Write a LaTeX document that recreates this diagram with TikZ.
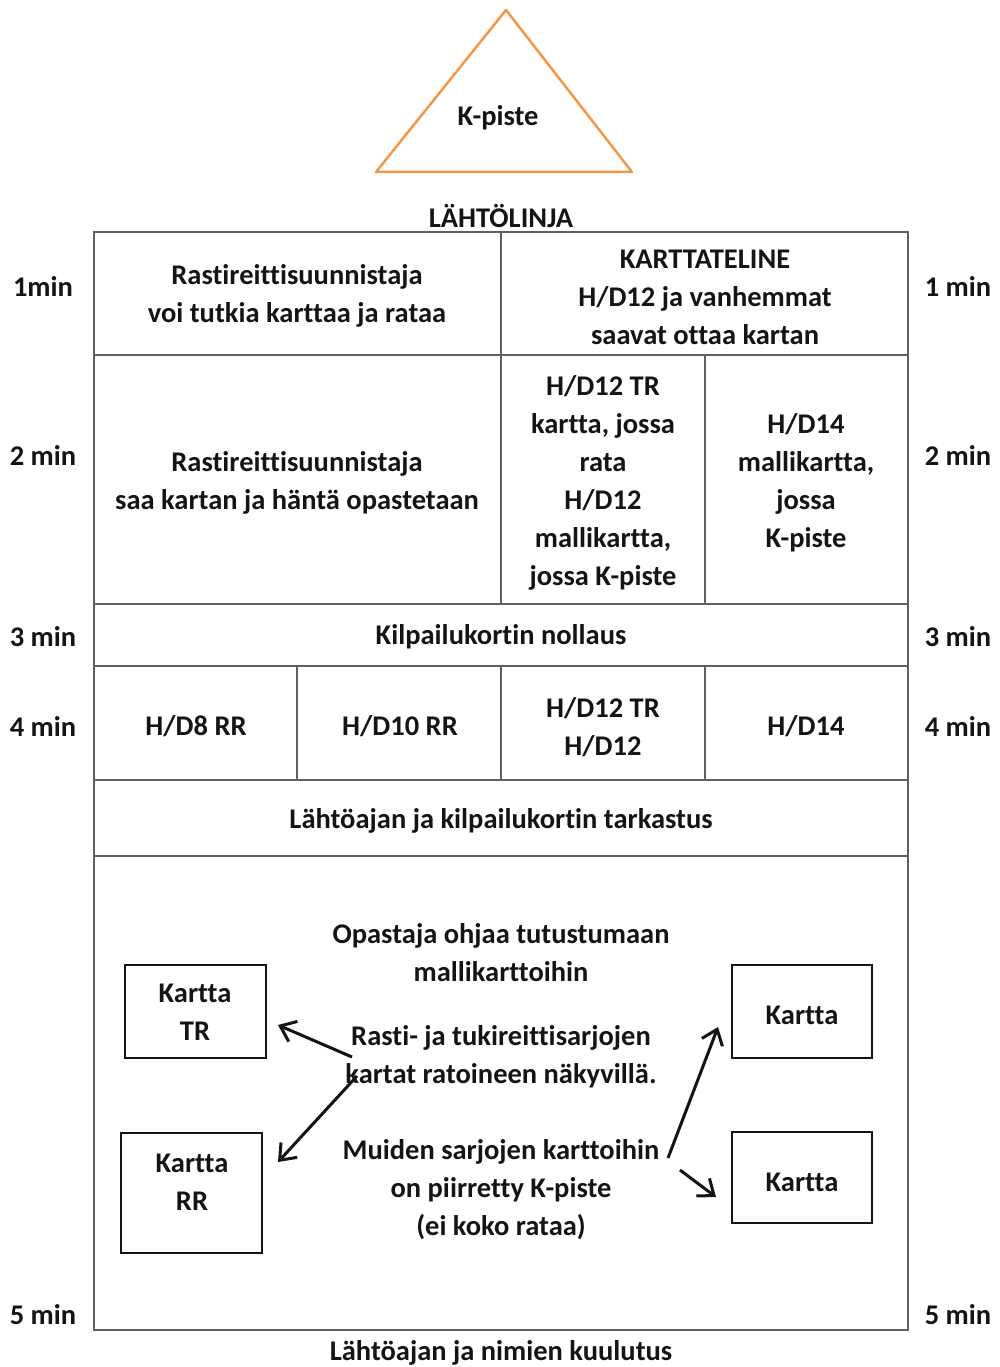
\documentclass[tikz,border=0pt]{standalone}
\usepackage{fontspec}
\setmainfont{Carlito}[UprightFont=* Bold, BoldFont=* Bold, Ligatures=NoCommon]
\usetikzlibrary{arrows.meta}
\definecolor{korange}{RGB}{247,150,70}
\definecolor{gridc}{RGB}{95,95,95}
\definecolor{ink}{RGB}{20,20,20}
\begin{document}
\begin{tikzpicture}[x=1pt,y=-1pt,
 txt/.style={font=\fontsize{28.5}{38}\selectfont\bfseries, align=center, text=ink, inner sep=0pt, yshift=-2pt},
 gridline/.style={draw=gridc, line width=1.6pt},
 mapbox/.style={draw=ink, line width=2.2pt, inner sep=0pt},
 arr/.style={-{Straight Barb[length=14pt,width=22pt,line width=3pt]}, line width=3pt, draw=ink}]
\useasboundingbox (0,0) rectangle (999,1367);

% triangle
\draw[korange, line width=2.5pt, line join=round] (506,10) -- (632,172) -- (376,172) -- cycle;
\node[txt] (kp) at (498,116) {K-piste};
\node[txt] (lahto) at (501,214) {LÄHTÖLINJA};

% table grid
\draw[gridline] (94,232) rectangle (908,1330);
\draw[gridline] (94,355) -- (908,355);
\draw[gridline] (94,604) -- (908,604);
\draw[gridline] (94,666) -- (908,666);
\draw[gridline] (94,780) -- (908,780);
\draw[gridline] (94,856) -- (908,856);
\draw[gridline] (501,232) -- (501,604);
\draw[gridline] (705,355) -- (705,604);
\draw[gridline] (297,666) -- (297,780);
\draw[gridline] (501,666) -- (501,780);
\draw[gridline] (705,666) -- (705,780);

% time labels
\foreach \n/\t/\y in {l1/1min/284, l2/2 min/453, l3/3 min/635, l4/4 min/724, l5/5 min/1313}
  \node[txt] (\n) at (43,\y) {\t};
\foreach \n/\t/\y in {r1/1 min/284, r2/2 min/453, r3/3 min/635, r4/4 min/724, r5/5 min/1313}
  \node[txt] (\n) at (958,\y) {\t};

% cell texts
\node[txt] (c11) at (297,294) {Rastireittisuunnistaja\\voi tutkia karttaa ja rataa};
\node[txt] (c12) at (705,295) {KARTTATELINE\\H/D12 ja vanhemmat\\saavat ottaa kartan};
\node[txt] (c21) at (297,481) {Rastireittisuunnistaja\\saa kartan ja häntä opastetaan};
\node[txt] (c22) at (603,481) {H/D12 TR\\kartta, jossa\\rata\\H/D12\\mallikartta,\\jossa K-piste};
\node[txt] (c23) at (806,481) {H/D14\\mallikartta,\\jossa\\K-piste};
\node[txt] (c3) at (501,635) {Kilpailukortin nollaus};
\node[txt] (c41) at (196,724) {H/D8 RR};
\node[txt] (c42) at (400,724) {H/D10 RR};
\node[txt] (c43) at (603,725) {H/D12 TR\\H/D12};
\node[txt] (c44) at (806,724) {H/D14};
\node[txt] (c5) at (501,819) {Lähtöajan ja kilpailukortin tarkastus};

% bottom section
\node[txt] (op) at (501,951) {Opastaja ohjaa tutustumaan\\mallikarttoihin};
\node[txt] (ra) at (501,1055) {Rasti- ja tukireittisarjojen\\kartat ratoineen näkyvillä.};
\node[txt] (mu) at (501,1188) {Muiden sarjojen karttoihin\\on piirretty K-piste\\(ei koko rataa)};

\node[mapbox, minimum width=141pt, minimum height=93pt] (tr) at (195.5,1011.5) {};
\node[txt] (trt) at (195,1010) {Kartta\\TR};
\node[mapbox, minimum width=141pt, minimum height=120pt] (rr) at (191.5,1193) {};
\node[txt] (rrt) at (192,1180) {Kartta\\RR};
\node[mapbox, minimum width=140pt, minimum height=93pt] (k1) at (802,1011.5) {};
\node[txt] (k1t) at (802,1013) {Kartta};
\node[mapbox, minimum width=140pt, minimum height=91pt] (k2) at (802,1177.5) {};
\node[txt] (k2t) at (802,1180) {Kartta};

% arrows
\coordinate (a1s) at (352,1057); \coordinate (a1e) at (278,1025);
\coordinate (a2s) at (357,1076); \coordinate (a2e) at (278,1162);
\coordinate (a3s) at (668,1158); \coordinate (a3e) at (718,1027);
\coordinate (a4s) at (680,1170); \coordinate (a4e) at (716,1197);
\draw[arr] (a1s) -- (a1e);
\draw[arr] (a2s) -- (a2e);
\draw[arr] (a3s) -- (a3e);
\draw[arr] (a4s) -- (a4e);

\node[txt] (kuul) at (501,1351) {Lähtöajan ja nimien kuulutus};
\end{tikzpicture}
\end{document}
